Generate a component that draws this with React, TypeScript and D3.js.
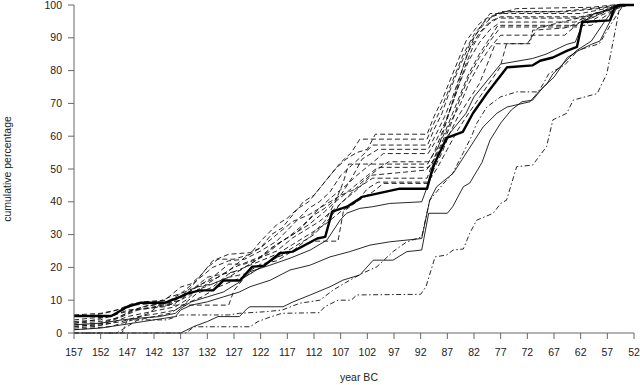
import React from "react";
import * as d3 from "d3";

type Pt = [number, number];

const xTicks: number[] = [157, 152, 147, 142, 137, 132, 127, 122, 117, 112, 107, 102, 97, 92, 87, 82, 77, 72, 67, 62, 57, 52];
const yTicks: number[] = [0, 10, 20, 30, 40, 50, 60, 70, 80, 90, 100];

// thick solid series
const thickSeries: Pt[] = [[157,5.2],[150,5.2],[147,8],[144.6,9.2],[140,9.2],[137.1,11],[135.8,12],[133.4,13],[130.9,13],[129,16],[125.9,16],[123.6,20.2],[121.4,20.5],[118.4,24.3],[116,24.8],[111.4,28.8],[109.9,29.3],[108.6,37],[105.8,38.5],[103,41.5],[100.2,42.5],[95.9,44],[90.8,44],[89.7,50.7],[87.1,59.5],[84.1,61.3],[82.2,67],[79.6,73],[75.8,81],[71,81.6],[69.6,83],[67.2,84],[64.6,86],[62.7,87.2],[61.7,94.8],[56.5,95.3],[55.6,99.4],[54.6,100],[52,100]];

// thin solid series
const solidC: Pt[] = [[157,2.5],[152,3],[148,4],[145,4.5],[141,5],[138,6],[137,7.5],[135,9.5],[132,11],[129,12.5],[126,15.5],[124,18.7],[120.2,20.7],[116.5,22.8],[112.7,25.3],[109.6,28.3],[107.1,34.4],[105.9,36.5],[103.4,38],[101,38.5],[97.8,39.5],[91.8,40],[90.3,46.6],[89,53],[87,60],[85,64],[83.5,67],[82,72],[80,76],[77,82],[71,83.7],[68.5,85],[64.6,88],[63,88.7],[61.5,94.8],[59.5,97.4],[56.5,98.4],[55,100],[52,100]];
const solidA: Pt[] = [[157,1],[152,1.5],[148,2.5],[144,3.5],[140,4.5],[138,5],[137,7],[135,8.5],[132,9.5],[129,11],[126,12.5],[124,14.1],[120.2,16.1],[116.5,19.2],[112.7,20.7],[109,23.2],[105.3,24.8],[101.5,26.8],[97.8,27.8],[91.8,28.8],[90.3,40.5],[89,44.6],[85.9,48.7],[83,56],[80.3,62.8],[77.7,67],[75.8,68.9],[71.5,70.5],[70.2,73],[68.3,76],[67.2,79],[64,84.2],[62.7,86.2],[60,89],[57.5,95],[55.2,100],[52,100]];
const solidB: Pt[] = [[157,0],[137,0],[134.5,2],[132,3.5],[130,5],[126,5],[124.5,7.5],[124,8],[117.8,8],[115.9,9.5],[112.7,11.6],[109,14.1],[106.6,16.1],[103.4,17.7],[100.9,22.2],[97.2,22.2],[94.6,24.8],[91.8,25.3],[90.5,36.5],[87,36.5],[86,38.5],[84,44.6],[82.8,45.7],[80.5,52],[79,58.8],[77,64],[75,68],[73,70.5],[71,71],[69,75],[67,78],[64.5,84],[62.5,86],[60,88],[58.4,89],[56.5,95],[55,100],[52,100]];

// dashed series
const dashed1: Pt[] = [[157,5],[153,5.5],[150,6.5],[147,8],[144,9.5],[140,10],[137,14],[135,15],[133,18],[131,22],[128,24],[124,24.5],[122,26],[120,30],[118,32],[116,36],[114,40],[112,42],[110,46],[108,50],[106,53],[104,55],[102,56],[100.5,60.6],[90.8,60.6],[89.5,66],[88,71],[85.5,81],[83.5,89],[81,94.3],[79.6,96],[77.5,97.4],[74,98.9],[60,99.3],[56,100],[52,100]];
const dashed2: Pt[] = [[157,3.5],[152,4],[149,6],[146,8.5],[142,9],[139,11],[137,12],[134,16],[131,20],[128,22],[125,22.5],[122,25],[119,28],[116,33],[113,38],[111,40],[109,43],[107,48],[105,51],[103,54],[101,57.3],[90.7,57.3],[89.5,62],[88,67],[86.5,74],[84.5,82],[82.5,89],[80.5,93.5],[78.5,96.5],[76,97.9],[65,97.9],[58,99],[55,100],[52,100]];
const dashed3: Pt[] = [[157,2.5],[151,3],[148,5],[145,7],[141,8],[138,9],[136,12],[133,15],[130,17],[127,20],[124,22],[121,24],[118,28],[115,31],[112,36],[110,38],[107,42],[105,47],[103,53],[100,56],[90.6,56],[89,61],[87.5,66],[86,72],[84.5,79],[83,86],[81,91.5],[79,95],[77,96.4],[62,96.4],[58,98],[55,100],[52,100]];
const dashed4: Pt[] = [[157,4],[154,4.5],[150,5],[147,7],[143,7.5],[140,8],[137,10],[135,13],[132,17],[129,18],[126,19],[123,22],[120,26],[117,29],[114,33],[111,38],[109,41],[106,45],[104,48],[101,52],[99,54.7],[90.6,54.7],[89,59],[87.5,64],[86,70],[84.5,77],[83,83],[81,88.5],[79,92.5],[77,94.8],[63,94.8],[60,97],[56,99],[54,100],[52,100]];
const dashed5: Pt[] = [[157,1.5],[153,2],[150,3],[147,5],[144,6],[141,7],[138,8],[136,10],[134,13],[131,15],[128,17],[125,20],[122,23],[119,25],[116,29],[113,32],[111,34],[108,38],[106,41],[103,46],[100,50],[98,52.2],[90.5,52.2],[89,56],[87.5,61],[86,67],[84.5,73],[83,79],[81,85],[79,90],[77.5,93.8],[60,93.8],[57,97],[54.5,100],[52,100]];
const dashed6: Pt[] = [[157,3],[152,3.5],[149,4.5],[146,7],[142,8],[139,9],[137,11],[134,14],[131,17],[128,21],[125,21],[122,23],[119,27],[116,30],[113,33],[110,37],[108,40],[105,44],[102,48],[100,50.5],[90.5,50.5],[89,54],[87.5,59],[86,65],[84.5,72],[83,78],[81,84],[79,89],[77,93.3],[62,93.3],[58,97],[55,99],[53,100],[52,100]];
const dashed7: Pt[] = [[157,2],[152,2.5],[148,3.5],[145,5],[141,6],[138,7],[136,9],[133,11],[130,14],[127,16],[124,18],[121,21],[118,24],[115,27],[112,30],[109,35],[107,39.6],[104,43.6],[101.2,48.1],[97.2,48.7],[90.9,49.7],[89.5,53],[88,58],[86.5,64],[84.5,70],[83,76],[81,82],[79,87],[77,90.8],[65,90.8],[62,95],[58,98],[55,100],[52,100]];
const dashed8: Pt[] = [[157,0],[149,0],[147,2],[145,4],[142,5],[139,6],[137,8],[134,12],[131,14],[128,18],[125,20],[122,22],[119,24],[116,27],[113,30],[110,33],[107,37],[104,40],[101,43],[99,45.6],[90.7,45.6],[89.5,50],[88,55],[86.5,61],[85,66],[83,71],[81,76],[79.5,82],[78,88.2],[72,88.2],[70,93],[65,95],[60,97],[56,99],[53,100],[52,100]];
const dashed9: Pt[] = [[157,1],[150,2],[146,4],[143,6],[141,8.5],[128,8.5],[127,13],[125,17],[122,20],[119,23],[116,25],[112,28],[107.5,28],[106.5,37],[104,40],[102,44],[100,46],[90.6,46],[89,50],[87,56],[85,62],[83,67],[80.9,72],[77.1,81],[75.9,88.2],[71.5,88.2],[71,92.3],[65,93],[60,96],[56,99],[53,100],[52,100]];
const dashed10: Pt[] = [[157,2],[153,2.5],[150,4],[147,6],[144,8],[140,9],[137,10],[134,13],[131,16],[128,19],[125,23],[122,26],[119,30],[116,34],[113,36],[110,39],[107,42],[104,44],[101,47.2],[90.8,47.2],[89.5,53],[88,60],[86.5,68],[85,76],[83.5,84],[82,90],[80.5,94],[79,97.4],[62,97.4],[57,99],[54,100],[52,100]];
const dashed11: Pt[] = [[157,5.5],[152,6],[149,7],[146,9],[142,9.5],[139,10],[137,12],[134,14],[131,15],[128,17],[125,18],[122,21],[119,22],[116,25],[113,29],[110,34],[108,40],[106.5,46],[105.5,51.5],[90.7,51.5],[89.5,55],[88,61],[86.5,68],[85,75],[83.5,82],[82,88],[80.5,92],[79,94.5],[77.5,96],[60,96],[57,98.5],[54,100],[52,100]];
const dashed12: Pt[] = [[157,3],[153,4],[150,5.5],[147,6.5],[143,8.5],[140,9],[137,11],[135,14],[132,20],[130,22.5],[127,22.5],[124,24],[122,28],[119,33],[117,35],[115,38],[113,40],[111,44],[109,48],[107,52],[105,55],[103.4,59.1],[90.8,59.1],[89.5,64],[88,69],[86,77],[84,85],[82,91],[80,95],[77,98],[66,98],[58,99.3],[55.5,100],[52,100]];

// dash-dot series
const dashDotA: Pt[] = [[157,0],[136,0],[134.5,1.9],[124,1.9],[122.5,3.5],[120,5],[118,6],[111,6.2],[110,8],[107.5,10],[105,10],[104,11.6],[92,11.8],[91,14.1],[89.3,23.2],[87.1,23.8],[85.9,25.3],[84,25.6],[82.8,30.4],[81.5,34.4],[78.4,36.5],[77,39.5],[75.9,40.5],[74,50.7],[71,51.2],[68.4,56.8],[67.2,65],[64.6,67],[63.4,71],[58.9,73],[57.1,79],[55.9,89],[54.6,100],[52,100]];
const dashDotB: Pt[] = [[157,0],[148,0],[147,4],[139.6,4],[137,5.5],[128,5.5],[126,6],[121,6.5],[118,7],[114.6,9.1],[110.9,10],[108.4,13.1],[105.3,16.1],[102.8,18.3],[100.2,20.2],[97.2,24.8],[94.6,27.8],[92.7,28.8],[91.8,29.3],[90.3,40.5],[88,45],[86,48.7],[84,55],[82.5,59.8],[81.5,63.9],[79.6,68.9],[77,72],[74,73.5],[70,73.5],[69,76],[68,79],[65,81.7],[62.5,86.2],[58.5,88.2],[56,95],[54,100],[52,100]];

const dashedList: Pt[][] = [dashed1, dashed2, dashed3, dashed4, dashed5, dashed6, dashed7, dashed8, dashed9, dashed10, dashed11, dashed12];
const solidList: Pt[][] = [solidA, solidB, solidC];
const dashDotList: Pt[][] = [dashDotA, dashDotB];

const W = 640;
const H = 385;
const M = { left: 74, right: 6, top: 5, bottom: 52 };

export default function App() {
  const x = d3.scaleLinear().domain([157, 52]).range([M.left, W - M.right]);
  const y = d3.scaleLinear().domain([0, 100]).range([H - M.bottom, M.top]);
  const line = d3.line<Pt>().x((d) => x(d[0])).y((d) => y(d[1]));
  const axisColor = "#666";
  const textColor = "#222";
  const font = "'Liberation Sans', Arial, sans-serif";
  const y0 = y(0);
  const x0 = x(157);

  return (
    <svg width={W} height={H} style={{ position: "absolute", left: 0, top: 0, background: "#fff" }} fontFamily={font}>
      <rect width={W} height={H} fill="#fff" />
      <g fill="none" strokeLinejoin="round">
        {dashedList.map((s, i) => (
          <path key={"d" + i} d={line(s) || ""} stroke="#111" strokeWidth={0.9} strokeDasharray="5,3" />
        ))}
        {dashDotList.map((s, i) => (
          <path key={"dd" + i} d={line(s) || ""} stroke="#111" strokeWidth={0.9} strokeDasharray="5,2.5,1.5,2.5" />
        ))}
        {solidList.map((s, i) => (
          <path key={"s" + i} d={line(s) || ""} stroke="#111" strokeWidth={0.9} />
        ))}
        <path d={line(thickSeries) || ""} stroke="#000" strokeWidth={2.4} />
      </g>
      <g>
        <line x1={x0} x2={x0} y1={y(0)} y2={y(100)} stroke={axisColor} strokeWidth={1} />
        {yTicks.map((t) => (
          <g key={"yt" + t}>
            <line x1={x0 - 6} x2={x0} y1={y(t)} y2={y(t)} stroke={axisColor} strokeWidth={1} />
            <text x={x0 - 12} y={y(t)} dy="0.35em" textAnchor="end" fontSize={10.5} fill={textColor}>{t}</text>
          </g>
        ))}
      </g>
      <g>
        <line x1={x(157)} x2={x(52)} y1={y0} y2={y0} stroke={axisColor} strokeWidth={1} />
        {xTicks.map((t) => (
          <g key={"xt" + t}>
            <line x1={x(t)} x2={x(t)} y1={y0} y2={y0 + 6} stroke={axisColor} strokeWidth={1} />
            <text x={x(t)} y={y0 + 23} textAnchor="middle" fontSize={10.5} fill={textColor}>{t}</text>
          </g>
        ))}
      </g>
      <text x={359} y={381} textAnchor="middle" fontSize={10.5} fill={textColor}>year BC</text>
      <text transform={`translate(11, ${(y(0) + y(100)) / 2}) rotate(-90)`} textAnchor="middle" fontSize={10.5} fill={textColor}>cumulative percentage</text>
    </svg>
  );
}
